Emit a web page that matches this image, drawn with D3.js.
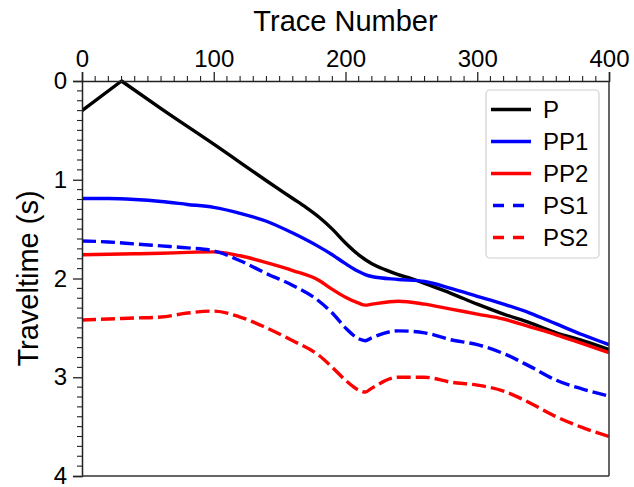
<!DOCTYPE html>
<html>
<head>
<meta charset="utf-8">
<script src="https://cdn.jsdelivr.net/npm/d3@7"></script>
<style>
  body { margin: 0; background: #fff; }
  svg { display: block; }
  text { font-family: "Liberation Sans", Arial, Helvetica, sans-serif; fill: #000; }
</style>
</head>
<body>
<svg id="chart" width="634" height="487"></svg>
<script>
// Series names and styles (legend order)
const seriesNames = ["P", "PP1", "PP2", "PS1", "PS2"];
const seriesColors = ["#000000", "#0000ff", "#ff0000", "#0000ff", "#ff0000"];
const seriesDashed = [false, false, false, true, true];

// Direct P arrival: trace numbers and traveltimes (s); apex at trace 30
const pTrace = [0, 30, 60, 100, 140, 160, 170, 180, 190, 200, 210, 220, 230, 240, 250, 260, 280, 300, 320, 340, 360, 380, 400];
const pTime  = [0.30, 0.00, 0.28, 0.64, 1.01, 1.19, 1.28, 1.38, 1.50, 1.64, 1.76, 1.85, 1.91, 1.96, 2.00, 2.05, 2.15, 2.26, 2.36, 2.45, 2.55, 2.63, 2.72];

// Reflected arrivals share one set of trace numbers
const trace = [0, 20, 40, 60, 80, 100, 120, 140, 160, 180, 190, 200, 210, 215, 220, 240, 260, 280, 300, 320, 340, 360, 380, 400];
const pp1 = [1.19, 1.19, 1.20, 1.22, 1.25, 1.28, 1.34, 1.42, 1.54, 1.68, 1.76, 1.85, 1.93, 1.96, 1.98, 2.01, 2.03, 2.10, 2.18, 2.26, 2.35, 2.46, 2.57, 2.67];
const pp2 = [1.76, 1.755, 1.75, 1.745, 1.735, 1.73, 1.77, 1.84, 1.92, 2.02, 2.11, 2.19, 2.25, 2.27, 2.26, 2.23, 2.26, 2.31, 2.36, 2.41, 2.49, 2.57, 2.66, 2.75];
const ps1 = [1.62, 1.63, 1.65, 1.67, 1.69, 1.72, 1.82, 1.95, 2.07, 2.23, 2.35, 2.50, 2.61, 2.63, 2.60, 2.53, 2.55, 2.62, 2.67, 2.76, 2.89, 3.03, 3.12, 3.19];
const ps2 = [2.42, 2.41, 2.40, 2.39, 2.35, 2.33, 2.39, 2.50, 2.63, 2.78, 2.90, 3.03, 3.13, 3.15, 3.11, 3.00, 3.00, 3.05, 3.08, 3.14, 3.26, 3.40, 3.51, 3.60];

// Axis ticks
const xTicks = [0, 100, 200, 300, 400];
const yTicks = [0, 1, 2, 3, 4];

const svg = d3.select("#chart");
const m = { left: 82, right: 609, top: 81, bottom: 476 };

const x = d3.scaleLinear().domain([0, 400]).range([m.left, m.right]);
const y = d3.scaleLinear().domain([0, 4]).range([m.top, m.bottom]);

const spineColor = "#222";
const lineWidth = 3.4;

const toPts = (xs, ys) => xs.map((t, k) => [t, ys[k]]);
const lineLinear = d3.line().x(d => x(d[0])).y(d => y(d[1])).curve(d3.curveLinear);
const lineSmooth = d3.line().x(d => x(d[0])).y(d => y(d[1])).curve(d3.curveMonotoneX);

// P: straight flanks into a sharp apex, smooth beyond the apex
const pPts = toPts(pTrace, pTime);
const apex = pTrace.indexOf(30);
const pPath = lineLinear(pPts.slice(0, apex + 1)) + lineSmooth(pPts.slice(apex)).replace(/^M/, "L");

const paths = [
  pPath,
  lineSmooth(toPts(trace, pp1)),
  lineSmooth(toPts(trace, pp2)),
  lineSmooth(toPts(trace, ps1)),
  lineSmooth(toPts(trace, ps2))
];

const plot = svg.append("g");
plot.append("clipPath").attr("id", "clip")
  .append("rect").attr("x", m.left).attr("y", m.top - 3)
  .attr("width", m.right - m.left).attr("height", m.bottom - m.top + 3);

paths.forEach((d, i) => {
  plot.append("path")
    .attr("d", d)
    .attr("fill", "none")
    .attr("stroke", seriesColors[i])
    .attr("stroke-width", lineWidth)
    .attr("stroke-linejoin", "round")
    .attr("stroke-dasharray", seriesDashed[i] ? "14,5" : null)
    .attr("clip-path", "url(#clip)");
});

// Top x axis with minor ticks
const xAxis = d3.axisTop(x).tickValues(xTicks).tickSize(9).tickPadding(5).tickFormat(d3.format("d"));
const gx = svg.append("g").attr("transform", `translate(0,${m.top})`).call(xAxis);
gx.select(".domain").attr("stroke", spineColor).attr("stroke-width", 1.5);
gx.selectAll(".tick line").attr("stroke", spineColor).attr("stroke-width", 1.3);
gx.selectAll(".tick text").style("font-size", "24px").style("font-family", "'Liberation Sans', Arial, sans-serif").attr("fill", "#000");
const xMinor = d3.range(0, 401, 10).filter(v => v % 100 !== 0);
svg.append("g").selectAll("line").data(xMinor).join("line")
  .attr("x1", d => x(d)).attr("x2", d => x(d))
  .attr("y1", m.top).attr("y2", m.top - 5)
  .attr("stroke", spineColor).attr("stroke-width", 1.1);

// Left y axis (reversed) with minor ticks
const yAxis = d3.axisLeft(y).tickValues(yTicks).tickSize(9).tickPadding(6).tickFormat(d3.format("d"));
const gy = svg.append("g").attr("transform", `translate(${m.left},0)`).call(yAxis);
gy.select(".domain").attr("stroke", spineColor).attr("stroke-width", 1.5);
gy.selectAll(".tick line").attr("stroke", spineColor).attr("stroke-width", 1.3);
gy.selectAll(".tick text").style("font-size", "24px").style("font-family", "'Liberation Sans', Arial, sans-serif").attr("fill", "#000");
const yMinor = d3.range(0, 41).map(v => v / 10).filter((v, i) => i % 10 !== 0);
svg.append("g").selectAll("line").data(yMinor).join("line")
  .attr("x1", m.left).attr("x2", m.left - 5)
  .attr("y1", d => y(d)).attr("y2", d => y(d))
  .attr("stroke", spineColor).attr("stroke-width", 1.1);

// Right and bottom spines
svg.append("line").attr("x1", m.right).attr("x2", m.right).attr("y1", m.top).attr("y2", m.bottom)
  .attr("stroke", "#333").attr("stroke-width", 1.5);
svg.append("line").attr("x1", m.left).attr("x2", m.right).attr("y1", m.bottom).attr("y2", m.bottom)
  .attr("stroke", "#333").attr("stroke-width", 1.5);

// Axis titles
svg.append("text")
  .attr("x", (m.left + m.right) / 2).attr("y", 31)
  .attr("text-anchor", "middle").style("font-size", "29px")
  .text("Trace Number");
svg.append("text")
  .attr("transform", `translate(38,${(m.top + m.bottom) / 2}) rotate(-90)`)
  .attr("text-anchor", "middle").style("font-size", "29px")
  .text("Traveltime (s)");

// Legend
const lg = svg.append("g");
lg.append("rect")
  .attr("x", 486).attr("y", 90).attr("width", 113).attr("height", 168)
  .attr("rx", 4).attr("ry", 4)
  .attr("fill", "#fff").attr("fill-opacity", 0.8)
  .attr("stroke", "#d0d0d0").attr("stroke-width", 1.2);
seriesNames.forEach((name, i) => {
  const cy = 109.5 + i * 32;
  lg.append("line")
    .attr("x1", seriesDashed[i] ? 493 : 491).attr("x2", seriesDashed[i] ? 525 : 531)
    .attr("y1", cy).attr("y2", cy)
    .attr("stroke", seriesColors[i]).attr("stroke-width", lineWidth)
    .attr("stroke-dasharray", seriesDashed[i] ? "11,9" : null);
  lg.append("text")
    .attr("x", 543).attr("y", cy).attr("dy", "0.36em")
    .style("font-size", "24px")
    .text(name);
});
</script>
</body>
</html>
